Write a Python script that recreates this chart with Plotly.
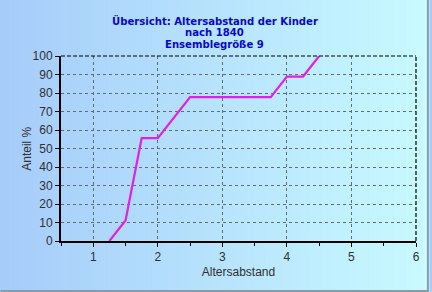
import plotly.graph_objects as go

# data
age_gap = [1.25, 1.5, 1.75, 2.0, 2.5, 3.75, 4.0, 4.25, 4.5]
share_pct = [0, 11.1, 55.6, 55.6, 77.8, 77.8, 88.9, 88.9, 100]
x_ticks = [1, 2, 3, 4, 5, 6]
y_ticks = [0, 10, 20, 30, 40, 50, 60, 70, 80, 90, 100]
title_lines = ["Übersicht: Altersabstand der Kinder", "nach 1840", "Ensemblegröße 9"]

W, H = 432, 292
ML, MR, MT, MB = 61, 13, 56, 51

fig = go.Figure()
fig.add_trace(go.Scatter(x=age_gap, y=share_pct, mode="lines",
                         line=dict(color="#e020e8", width=2.2),
                         hoverinfo="skip", showlegend=False, cliponaxis=True))

pw = W - ML - MR
ph = H - MT - MB
def px2paper_x(px):
    return (px - ML) / pw
def px2paper_y(py):
    return (H - MB - py) / ph

shapes = []
N = 108
c0 = (166, 204, 250)
c1 = (200, 250, 255)
for i in range(N):
    t = i / (N - 1)
    col = tuple(round(c0[k] + (c1[k] - c0[k]) * t) for k in range(3))
    x0 = W * i / N
    x1 = W * (i + 1) / N + 0.6
    shapes.append(dict(type="rect", xref="paper", yref="paper",
                       x0=px2paper_x(x0), x1=px2paper_x(x1),
                       y0=px2paper_y(H), y1=px2paper_y(0),
                       fillcolor="rgb(%d,%d,%d)" % col, line=dict(width=0),
                       layer="below"))
# bevel border
shapes.append(dict(type="line", xref="paper", yref="paper",
                   x0=px2paper_x(W - 1), x1=px2paper_x(W - 1),
                   y0=px2paper_y(0), y1=px2paper_y(H),
                   line=dict(color="#8c9aa6", width=2), layer="above"))
shapes.append(dict(type="line", xref="paper", yref="paper",
                   x0=px2paper_x(0), x1=px2paper_x(W),
                   y0=px2paper_y(H - 1), y1=px2paper_y(H - 1),
                   line=dict(color="#8c9aa6", width=2), layer="above"))
# top and right dashed frame
shapes.append(dict(type="line", xref="paper", yref="paper", x0=0, x1=1, y0=1, y1=1,
                   line=dict(color="#000000", width=1.2, dash="4px,2px"), layer="above"))
shapes.append(dict(type="line", xref="paper", yref="paper", x0=1, x1=1, y0=0, y1=1,
                   line=dict(color="#000000", width=1.2, dash="4px,2px"), layer="above"))

axis_font = dict(family="Liberation Sans, Arial, sans-serif", size=12, color="#303030")
title_font = dict(family="DejaVu Sans, sans-serif", size=10.1, color="#0808c8")

annotations = [dict(text="Anteil %", xref="paper", yref="paper",
                    x=px2paper_x(26), y=0.5, xanchor="center", yanchor="middle",
                    textangle=-90, showarrow=False, font=axis_font)]
for i, line in enumerate(title_lines):
    annotations.append(dict(text="<b>%s</b>" % line, xref="paper", yref="paper",
                            x=px2paper_x(W / 2), y=px2paper_y(20 + 12 * i),
                            xanchor="center", yanchor="middle", borderpad=0,
                            showarrow=False, font=title_font))

fig.update_layout(
    width=W, height=H,
    margin=dict(l=ML, r=MR, t=MT, b=MB),
    paper_bgcolor="#a6ccfa",
    plot_bgcolor="rgba(0,0,0,0)",
    shapes=shapes,
    annotations=annotations,
    xaxis=dict(range=[0.5, 6], tickvals=x_ticks, ticktext=[str(v) for v in x_ticks],
               showgrid=True, gridcolor="#606a78", griddash="3px,3px", gridwidth=1,
               showline=True, linecolor="#000000", linewidth=2,
               ticks="outside", ticklen=4, tickcolor="#000000",
               minor=dict(dtick=0.5, ticks="outside", ticklen=3, tickcolor="#000000", showgrid=False),
               zeroline=False, tickfont=axis_font,
               title=dict(text="Altersabstand", font=axis_font, standoff=4)),
    yaxis=dict(range=[0, 100], tickvals=y_ticks, ticktext=[str(v) for v in y_ticks],
               showgrid=True, gridcolor="#606a78", griddash="3px,3px", gridwidth=1,
               showline=True, linecolor="#000000", linewidth=2,
               ticks="outside", ticklen=4, tickcolor="#000000",
               zeroline=False, tickfont=axis_font),
)

fig.write_html("out.html")
